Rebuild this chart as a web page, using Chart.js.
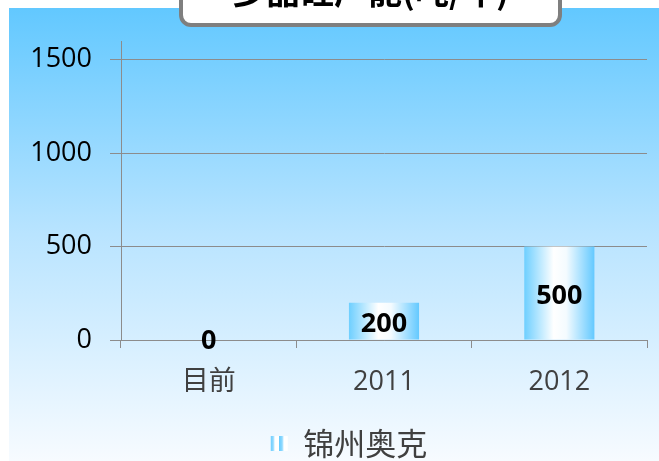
<!DOCTYPE html>
<html>
<head>
<meta charset="utf-8">
<script src="https://cdn.jsdelivr.net/npm/chart.js@4"></script>
<style>
  body { margin: 0; background: #fff; }
  #wrap { position: relative; width: 659px; height: 461px; overflow: hidden; }
  #panel {
    position: absolute; left: 9px; top: 8px; right: 0; bottom: 0;
    background: linear-gradient(to bottom, #62c8ff 0%, #b9e4ff 50%, #f7fbff 100%);
  }
  #chart { position: absolute; left: 0; top: 0; }
  #titleBox {
    position: absolute; left: 179px; top: -40px; width: 383px; height: 67px;
    box-sizing: border-box; border: 4px solid #7f7f7f; border-radius: 12px; background: #fff;
  }
  #titleText {
    position: absolute; left: 179px; top: -27px; width: 383px; text-align: center;
    font: bold 34px/34px "Noto Sans CJK SC", sans-serif; color: #000; white-space: nowrap;
  }
</style>
</head>
<body>
<div id="wrap">
  <div id="panel"></div>
  <canvas id="chart" width="659" height="461"></canvas>
  <div id="titleBox"></div>
  <div id="titleText">多晶硅产能(吨/年)</div>
</div>
<script>
// chart data
const categories = ['目前', '2011', '2012'];
const capacity = [0, 200, 500];
const seriesName = '锦州奥克';
const yTicks = [0, 500, 1000, 1500];
const yAxisMax = 1600;

const numFont = '"Open Sans", "Noto Sans CJK SC", sans-serif';
const gridColor = '#8c8c8c';

/**
 * Horizontal blue-white-blue fill for each bar
 */
function barFill(ctx) {
  const chart = ctx.chart;
  const xScale = chart.scales.x;
  if (ctx.dataIndex === undefined || !xScale) return '#8fd6ff';
  const cx = xScale.getPixelForValue(ctx.dataIndex);
  const half = xScale.width / categories.length * 0.4 / 2;
  if (!isFinite(cx) || !isFinite(half) || half <= 0) return '#8fd6ff';
  const g = chart.ctx.createLinearGradient(cx - half, 0, cx + half, 0);
  g.addColorStop(0, '#6ecfff');
  g.addColorStop(0.42, '#ffffff');
  g.addColorStop(0.6, '#f4fbff');
  g.addColorStop(1, '#64c9ff');
  return g;
}

function legendPattern(ctx) {
  const c = document.createElement('canvas');
  c.width = 9; c.height = 2;
  const cx = c.getContext('2d');
  const g = cx.createLinearGradient(0, 0, 9, 0);
  g.addColorStop(0, '#66ccff');
  g.addColorStop(0.35, '#8fd9ff');
  g.addColorStop(0.55, '#ffffff');
  g.addColorStop(1, '#ffffff');
  cx.fillStyle = g;
  cx.fillRect(0, 0, 9, 2);
  return ctx.createPattern(c, 'repeat');
}

const valueLabels = {
  id: 'valueLabels',
  afterDatasetsDraw(chart) {
    const ctx = chart.ctx;
    const meta = chart.getDatasetMeta(0);
    ctx.save();
    ctx.font = 'bold 27px ' + numFont;
    ctx.fillStyle = '#000';
    ctx.textAlign = 'center';
    ctx.textBaseline = 'middle';
    meta.data.forEach((el, i) => {
      const y = el.y === el.base ? el.base + 1 : (el.y + el.base) / 2 + 3;
      ctx.fillText(String(capacity[i]), el.x, y);
    });
    ctx.restore();
  }
};

// legend in the original sits a bit right of the canvas centre
const legendShift = {
  id: 'legendShift',
  afterLayout(chart) {
    if (chart.legend) chart.legend.left += 51;
  }
};

const chart = new Chart(document.getElementById('chart'), {
  type: 'bar',
  data: {
    labels: categories,
    datasets: [{
      label: seriesName,
      data: capacity,
      backgroundColor: barFill,
      borderWidth: 0,
      categoryPercentage: 0.8,
      barPercentage: 0.5
    }]
  },
  options: {
    responsive: false,
    devicePixelRatio: 1,
    animation: false,
    layout: { padding: { top: 41, right: 12, left: 0, bottom: -8 } },
    plugins: {
      title: { display: false },
      tooltip: { enabled: false },
      legend: {
        position: 'bottom',
        labels: {
          color: '#404040',
          font: { family: '"Noto Sans CJK SC", sans-serif', size: 31 },
          boxWidth: 17,
          boxHeight: 15,
          padding: 8,
          generateLabels(c) {
            return Chart.defaults.plugins.legend.labels.generateLabels(c).map(item => {
              item.fillStyle = legendPattern(c.ctx);
              item.strokeStyle = 'rgba(0,0,0,0)';
              item.lineWidth = 0;
              return item;
            });
          }
        }
      }
    },
    scales: {
      x: {
        afterFit(scale) { scale.height = 80; },
        grid: { drawOnChartArea: false, offset: true, tickLength: 8, color: gridColor },
        border: { color: gridColor },
        ticks: {
          color: '#404040',
          padding: 18,
          font: { family: numFont, size: 27 }
        }
      },
      y: {
        min: 0,
        max: yAxisMax,
        afterFit(scale) { scale.width = 121; },
        afterBuildTicks(scale) { scale.ticks = yTicks.map(v => ({ value: v })); },
        grid: { color: gridColor, tickLength: 11 },
        border: { color: gridColor },
        ticks: {
          color: '#000',
          padding: 18,
          font: { family: numFont, size: 27 },
          callback: v => String(v)
        }
      }
    }
  },
  plugins: [valueLabels, legendShift]
});
</script>
</body>
</html>
